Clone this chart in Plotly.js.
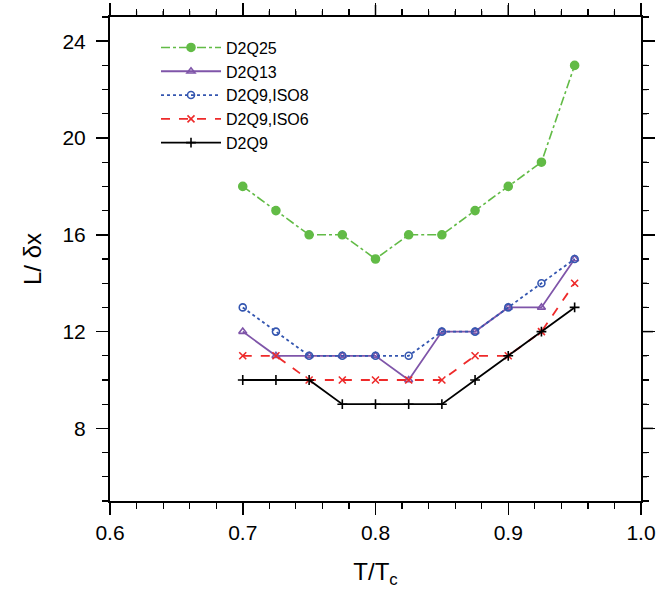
<!DOCTYPE html>
<html>
<head>
<meta charset="utf-8">
<script src="https://cdn.plot.ly/plotly-3.0.1.min.js"></script>
<style>html,body{margin:0;padding:0;background:#fff;}#chart{width:671px;height:596px;}</style>
</head>
<body>
<div id="chart"></div>
<script>
const T = [0.7, 0.725, 0.75, 0.775, 0.8, 0.825, 0.85, 0.875, 0.9, 0.925, 0.95];
const seriesNames = ["D2Q25", "D2Q13", "D2Q9,ISO8", "D2Q9,ISO6", "D2Q9"];
const d2q25 = [18, 17, 16, 16, 15, 16, 16, 17, 18, 19, 23];
const d2q13 = [12, 11, 11, 11, 11, 10, 12, 12, 13, 13, 15];
const d2q9iso8 = [13, 12, 11, 11, 11, 11, 12, 12, 13, 14, 15];
const d2q9iso6 = [11, 11, 10, 10, 10, 10, 10, 11, 11, 12, 14];
const d2q9 = [10, 10, 10, 9, 9, 9, 9, 10, 11, 12, 13];
const xTicks = [0.6, 0.7, 0.8, 0.9, 1.0];
const xTickText = ["0.6", "0.7", "0.8", "0.9", "1.0"];
const yTicks = [8, 12, 16, 20, 24];
const xMinorTicks = [0.62, 0.64, 0.66, 0.68, 0.72, 0.74, 0.76, 0.78, 0.82, 0.84, 0.86, 0.88, 0.92, 0.94, 0.96, 0.98];
const yMinorTicks = [5, 6, 7, 9, 10, 11, 13, 14, 15, 17, 18, 19, 21, 22, 23, 25];
const xRange = [0.6, 1.0];
const yRange = [5, 25];

const values = [d2q25, d2q13, d2q9iso8, d2q9iso6, d2q9];
const styles = [
  {color: "#62bb46", dash: "dashdot", symbol: "circle", size: 8, width: 1.6},
  {color: "#7f55a9", dash: "solid", symbol: "triangle-up-open", size: 7, width: 1.8},
  {color: "#3456b0", dash: "dot", symbol: "circle-open", size: 7, width: 1.8},
  {color: "#ee2a2a", dash: "dash", symbol: "x-thin-open", size: 7, width: 1.8},
  {color: "#000000", dash: "solid", symbol: "cross-thin-open", size: 7, width: 1.8}
];

const traces = values.map((v, i) => ({
  x: T, y: v, name: seriesNames[i], type: "scatter", mode: "lines+markers",
  line: {color: styles[i].color, dash: styles[i].dash, width: styles[i].width},
  marker: {symbol: styles[i].symbol, size: styles[i].size, color: styles[i].color,
           line: {color: styles[i].color, width: 1.6}}
}));

const font = "Liberation Sans, Arial, Helvetica, sans-serif";
const W = 671, H = 596;
const M = {l: 110, r: 18, t: 5, b: 95};          // room for the top/right ticks kept inside the plotting area
const areaW = W - M.l - M.r, areaH = H - M.t - M.b;
const MAJ = 12, MIN = 6;
const xDomEnd = (areaW - MAJ) / areaW;            // frame right edge
const yDomEnd = (areaH - MAJ) / areaH;            // frame top edge
const fx = v => xDomEnd * (v - xRange[0]) / (xRange[1] - xRange[0]);
const fy = v => yDomEnd * (v - yRange[0]) / (yRange[1] - yRange[0]);

const shapes = [];
const tickShape = (isX, v, len, w) => isX
  ? {type: "line", layer: "above", xref: "paper", yref: "paper", x0: fx(v), x1: fx(v), y0: yDomEnd, y1: yDomEnd + len / areaH, line: {color: "#000", width: w}}
  : {type: "line", layer: "above", xref: "paper", yref: "paper", y0: fy(v), y1: fy(v), x0: xDomEnd, x1: xDomEnd + len / areaW, line: {color: "#000", width: w}};
xTicks.forEach(v => shapes.push(tickShape(true, v, MAJ, 1.5)));
xMinorTicks.forEach(v => shapes.push(tickShape(true, v, MIN, 1.2)));
yTicks.forEach(v => shapes.push(tickShape(false, v, MAJ, 1.5)));
yMinorTicks.forEach(v => shapes.push(tickShape(false, v, MIN, 1.2)));

const layout = {
  width: W, height: H,
  margin: M,
  paper_bgcolor: "#fff", plot_bgcolor: "#fff",
  font: {family: font, color: "#000"},
  showlegend: true,
  legend: {x: 46 / areaW, y: (0.972 * 484) / areaH, xanchor: "left", yanchor: "top", bgcolor: "rgba(0,0,0,0)",
           font: {size: 16, family: font}, itemwidth: 60, traceorder: "normal"},
  shapes: shapes,
  xaxis: {
    domain: [0, xDomEnd],
    range: xRange, tickvals: xTicks, ticktext: xTickText,
    ticks: "outside", ticklen: MAJ, tickwidth: 1.5, tickcolor: "#000",
    showline: true, linewidth: 2, linecolor: "#000", mirror: "allticks",
    showgrid: false, zeroline: false,
    tickfont: {size: 21, family: font},
    minor: {tickvals: xMinorTicks, ticks: "outside", ticklen: MIN, tickwidth: 1.2, tickcolor: "#000", showgrid: false},
    title: {text: "T/T<sub>c</sub>", font: {size: 24, family: font}, standoff: 20}
  },
  yaxis: {
    domain: [0, yDomEnd],
    range: yRange, tickvals: yTicks,
    ticks: "outside", ticklen: MAJ, tickwidth: 1.5, tickcolor: "#000",
    showline: true, linewidth: 2, linecolor: "#000", mirror: "allticks",
    showgrid: false, zeroline: false,
    tickfont: {size: 21, family: font}, ticklabelstandoff: 6,
    minor: {tickvals: yMinorTicks, ticks: "outside", ticklen: MIN, tickwidth: 1.2, tickcolor: "#000", showgrid: false},
    title: {text: "L/ δx", font: {size: 24, family: font}, standoff: 14}
  }
};

Plotly.newPlot("chart", traces, layout, {displayModeBar: false, staticPlot: true});
</script>
</body>
</html>
